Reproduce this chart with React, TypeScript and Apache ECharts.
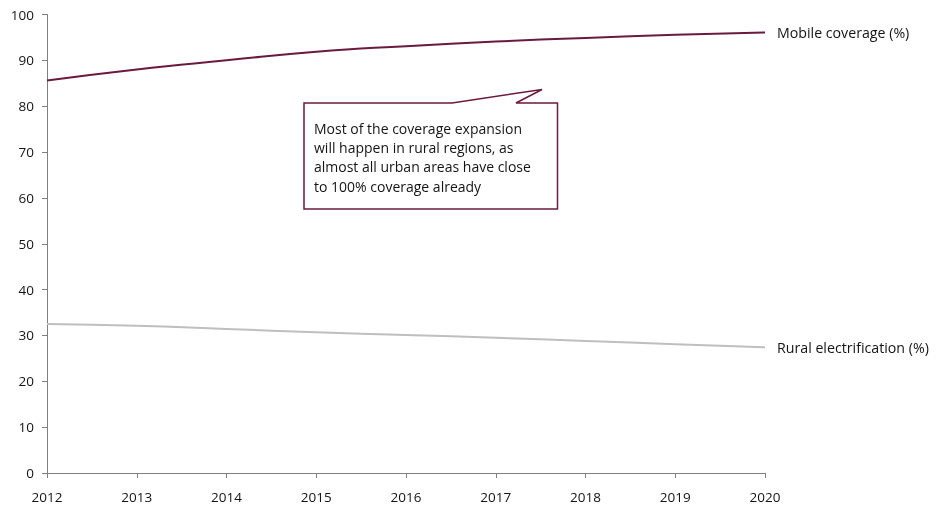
import React, { useEffect, useRef } from "react";
import * as echarts from "echarts";

const years = ["2012", "2013", "2014", "2015", "2016", "2017", "2018", "2019", "2020"];
const mobileCoverage = [85.6, 88.0, 90.0, 91.9, 93.1, 94.1, 94.9, 95.6, 96.1];
const ruralElectrification = [32.5, 32.1, 31.4, 30.7, 30.1, 29.5, 28.8, 28.1, 27.4];
const seriesNames = ["Mobile coverage (%)", "Rural electrification (%)"];
const calloutLines = [
  "Most of the coverage expansion",
  "will happen in rural regions, as",
  "almost all urban areas have close",
  "to 100% coverage already",
];

const FONT = "Open Sans";
const MAROON = "#6b1a3f";
const GREY = "#bfbfbf";
const TEXT = "#141414";

export default function App() {
  const ref = useRef<HTMLDivElement>(null);
  useEffect(() => {
    if (!ref.current) return;
    const chart = echarts.init(ref.current, undefined, { renderer: "svg" });
    chart.setOption({
      animation: false,
      textStyle: { fontFamily: FONT },
      grid: { left: 47, right: 171, top: 14.5, bottom: 36, containLabel: false },
      xAxis: {
        type: "category",
        data: years,
        boundaryGap: false,
        axisLine: { lineStyle: { color: "#7f7f7f", width: 1 } },
        axisTick: { show: true, inside: false, length: 5, lineStyle: { color: "#7f7f7f" } },
        axisLabel: { color: TEXT, fontSize: 13.5, margin: 17, fontFamily: FONT },
        splitLine: { show: false },
      },
      yAxis: {
        type: "value",
        min: 0,
        max: 100,
        interval: 10,
        axisLine: { show: true, lineStyle: { color: "#7f7f7f", width: 1 } },
        axisTick: { show: true, inside: false, length: 5, lineStyle: { color: "#7f7f7f" } },
        axisLabel: { color: TEXT, fontSize: 13.5, margin: 13, fontFamily: FONT },
        splitLine: { show: false },
      },
      series: [
        {
          name: seriesNames[0],
          type: "line",
          data: mobileCoverage,
          smooth: true,
          showSymbol: false,
          lineStyle: { color: MAROON, width: 2 },
          endLabel: {
            show: true,
            formatter: seriesNames[0],
            color: TEXT,
            fontSize: 14.2,
            fontFamily: FONT,
            distance: 12,
          },
        },
        {
          name: seriesNames[1],
          type: "line",
          data: ruralElectrification,
          smooth: true,
          showSymbol: false,
          lineStyle: { color: GREY, width: 2 },
          endLabel: {
            show: true,
            formatter: seriesNames[1],
            color: TEXT,
            fontSize: 14.2,
            fontFamily: FONT,
            distance: 12,
          },
        },
      ],
      graphic: [
        {
          type: "polygon",
          shape: {
            points: [
              [304, 103],
              [452, 103],
              [542, 89.5],
              [516, 103],
              [557.5, 103],
              [557.5, 209],
              [304, 209],
            ],
          },
          style: { fill: "#ffffff", stroke: MAROON, lineWidth: 1.5 },
          z: 10,
        },
        {
          type: "text",
          x: 314,
          y: 118.5,
          style: {
            text: calloutLines.join("\n"),
            fill: TEXT,
            font: `14px "${FONT}"`,
            lineHeight: 19.3,
          },
          z: 11,
        },
      ],
    });
    return () => chart.dispose();
  }, []);
  return (
    <div
      ref={ref}
      style={{ position: "fixed", left: 0, top: 0, width: 936, height: 509 }}
    />
  );
}
